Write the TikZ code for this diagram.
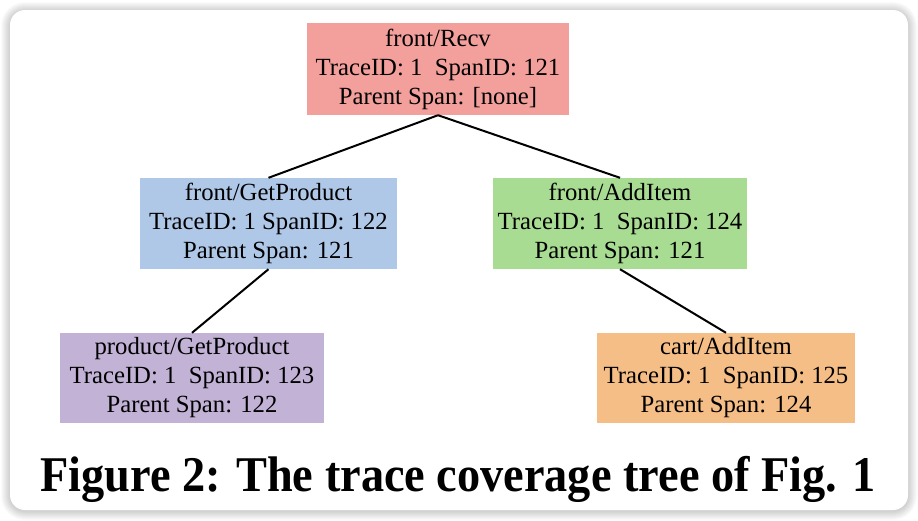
\documentclass[tikz,border=0pt]{standalone}
\usepackage{fontspec}
\setmainfont{Liberation Serif}
\definecolor{cred}{RGB}{243,160,157}
\definecolor{cblue}{RGB}{176,200,232}
\definecolor{cgreen}{RGB}{168,220,146}
\definecolor{cpurple}{RGB}{193,178,214}
\definecolor{corange}{RGB}{245,190,134}
\tikzset{
  span/.style={inner sep=0pt, align=center, font=\fontsize{24.7}{29}\selectfont},
  link/.style={line width=2pt, black}
}
\begin{document}
\begin{tikzpicture}[x=1pt,y=-1pt]
\useasboundingbox (0,0) rectangle (918,520);
\fill[white] (0,0) rectangle (918,520);
% soft shadow of the frame
\foreach \i in {9,8,...,1}{
  \fill[black,opacity=0.018,rounded corners=15+\i] (10-\i,10-\i+1) rectangle (908+\i,510+\i+1);
}
\fill[white,rounded corners=15] (10,10) rectangle (908,510);

\node[span, fill=cred, minimum width=262pt, minimum height=92pt] (recv) at (438,69)
  {front/Recv\\TraceID: 1~~SpanID: 121\\Parent Span: [none]};
\node[span, fill=cblue, minimum width=257pt, minimum height=91pt] (getp) at (268.5,223.5)
  {front/GetProduct\\TraceID: 1 SpanID: 122\\Parent Span: 121};
\node[span, fill=cgreen, minimum width=254pt, minimum height=91pt] (addi) at (620,223.5)
  {front/AddItem\\TraceID: 1~~SpanID: 124\\Parent Span: 121};
\node[span, fill=cpurple, minimum width=264pt, minimum height=90pt] (prod) at (192,378)
  {product/GetProduct\\TraceID: 1~~SpanID: 123\\Parent Span: 122};
\node[span, fill=corange, minimum width=258pt, minimum height=90pt] (cart) at (726,378)
  {cart/AddItem\\TraceID: 1~~SpanID: 125\\Parent Span: 124};

\draw[link] (recv.south) -- (getp.north);
\draw[link] (recv.south) -- (addi.north);
\draw[link] (getp.south) -- (prod.north);
\draw[link] (addi.south) -- (cart.north);

\node[anchor=base, inner sep=0pt, font=\fontsize{46.3}{56}\selectfont\bfseries] (cap) at (458,491)
  {\scalebox{1}[1.08]{Figure 2: The trace coverage tree of Fig. 1}};
\end{tikzpicture}
\end{document}
